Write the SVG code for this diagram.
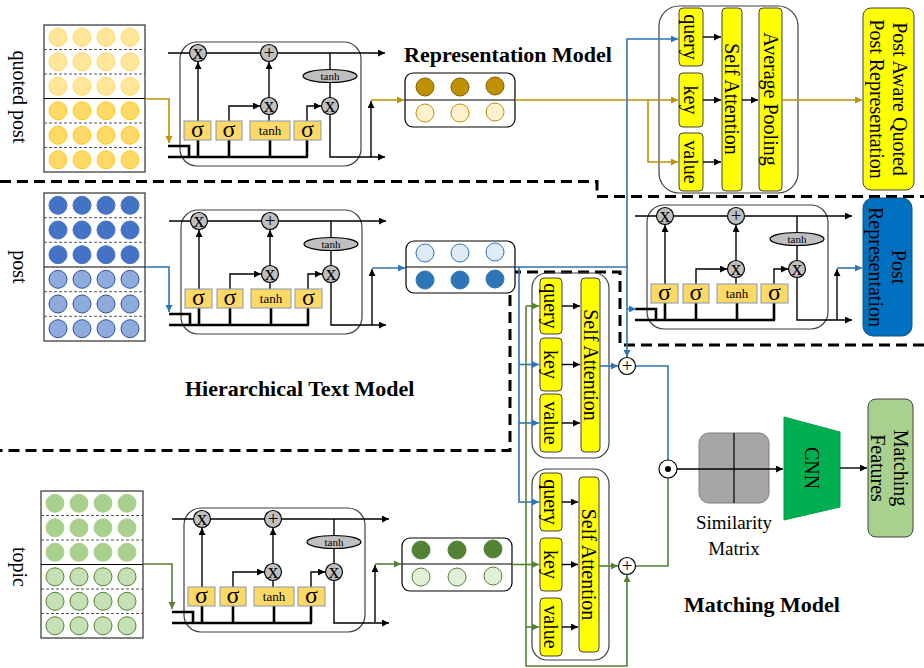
<svg xmlns="http://www.w3.org/2000/svg" width="924" height="668" viewBox="0 0 924 668">
<style>
.t{font-family:"Liberation Serif","Times New Roman",serif;fill:#000}
.b{font-weight:bold;font-size:22px}
.r20{font-size:20px}
.ln{fill:none;stroke:#000;stroke-width:1.4}
.th{fill:none;stroke:#000;stroke-width:2.6}
.gate{fill:#FFD966;stroke:#8497B0;stroke-width:1}
.op{fill:#BFBFBF;stroke:#000;stroke-width:1.2}
.wop{fill:#fff;stroke:#000;stroke-width:1.2}
.y{fill:#FFFF00;stroke:#404040;stroke-width:1}
.box{fill:none;stroke:#404040;stroke-width:1.2}
.rb{fill:#fff;stroke:#000;stroke-width:1.2}
.gold{fill:none;stroke:#BF9000;stroke-width:1.6}
.blue{fill:none;stroke:#2E75B6;stroke-width:1.6}
.green{fill:none;stroke:#548235;stroke-width:1.6}
.dash{fill:none;stroke:#000;stroke-width:3;stroke-dasharray:11 6}
.sep{stroke:#404040;stroke-width:0.9;stroke-dasharray:3 2}
.sol{stroke:#000;stroke-width:1.2}
.mx{fill:#fff;stroke:#404040;stroke-width:1.3}
.q1{fill:#FFE699;stroke:#FFD966;stroke-width:1}
.q2{fill:#FFD966;stroke:#FFC000;stroke-width:0.8}
.p1{fill:#4472C4;stroke:#4472C4;stroke-width:1}
.p2{fill:#8FAADC;stroke:#2F5597;stroke-width:1}
.g1{fill:#A9D18E;stroke:#A9D18E;stroke-width:1}
.g2{fill:#C5E0B4;stroke:#548235;stroke-width:1}
</style>
<defs>
<marker id="ak" markerUnits="userSpaceOnUse" markerWidth="8" markerHeight="8" refX="7" refY="3.5" orient="auto"><path d="M0,0 L7,3.5 L0,7 z" fill="#000"/></marker>
<marker id="ao" markerUnits="userSpaceOnUse" markerWidth="8" markerHeight="8" refX="7" refY="3.5" orient="auto"><path d="M0,0 L7,3.5 L0,7 z" fill="#BF9000"/></marker>
<marker id="ab" markerUnits="userSpaceOnUse" markerWidth="8" markerHeight="8" refX="7" refY="3.5" orient="auto"><path d="M0,0 L7,3.5 L0,7 z" fill="#2E75B6"/></marker>
<marker id="ag" markerUnits="userSpaceOnUse" markerWidth="8" markerHeight="8" refX="7" refY="3.5" orient="auto"><path d="M0,0 L7,3.5 L0,7 z" fill="#548235"/></marker>
<g id="cell">
<rect class="box" x="0" y="0" width="181" height="124" rx="17"/>
<path class="ln" d="M-12,11 H205" marker-end="url(#ak)"/>
<path class="ln" d="M150,11 V28 M150,40 V56"/>
<path class="ln" d="M18,79 V20" marker-end="url(#ak)"/>
<path class="ln" d="M49,79 V64 H80" marker-end="url(#ak)"/>
<path class="ln" d="M89,56 V20" marker-end="url(#ak)"/>
<path class="ln" d="M89,79 V72"/>
<path class="ln" d="M127,79 V64 H141" marker-end="url(#ak)"/>
<path class="ln" d="M150,72 V115 H205" marker-end="url(#ak)"/>
<path class="th" d="M-12,115 H128 M18,98 V115 M49,98 V115 M90,98 V115 M127,98 V115 M-12,104 H9 V115"/>
<rect class="gate" x="4" y="79" width="27" height="19"/>
<rect class="gate" x="36" y="79" width="26" height="19"/>
<rect class="gate" x="70" y="79" width="40" height="19"/>
<rect class="gate" x="114" y="79" width="27" height="19"/>
<text class="t" x="17.5" y="94.5" font-size="24" text-anchor="middle">σ</text>
<text class="t" x="49" y="94.5" font-size="24" text-anchor="middle">σ</text>
<text class="t" x="90" y="93" font-size="13" text-anchor="middle">tanh</text>
<text class="t" x="127.5" y="94.5" font-size="24" text-anchor="middle">σ</text>
<circle class="op" cx="18" cy="11" r="8.5"/>
<circle class="op" cx="89" cy="11" r="8.5"/>
<circle class="op" cx="89" cy="64" r="8.5"/>
<circle class="op" cx="150" cy="64" r="8.5"/>
<ellipse class="op" cx="150" cy="34" rx="27" ry="6.5"/>
<text class="t" x="18" y="16.5" font-size="21" text-anchor="middle">x</text>
<text class="t" x="89" y="17" font-size="19" text-anchor="middle">+</text>
<text class="t" x="89" y="69.5" font-size="21" text-anchor="middle">x</text>
<text class="t" x="150" y="69.5" font-size="21" text-anchor="middle">x</text>
<text class="t" x="150" y="38" font-size="11" text-anchor="middle">tanh</text>
</g>
</defs>
<rect width="924" height="668" fill="#fff"/>

<g id="dashed-regions">
<path class="dash" d="M0,181.5 H597 V196.5 H924"/>
<path class="dash" d="M924,345 H620 V272 H510 V450.5 H0"/>
</g>

<g id="labels">
<text class="t r20" transform="translate(20,97) rotate(90)" text-anchor="middle" dy="0.35em">quoted post</text>
<text class="t r20" transform="translate(20,267) rotate(90)" text-anchor="middle" dy="0.35em">post</text>
<text class="t r20" transform="translate(20,567) rotate(90)" text-anchor="middle" dy="0.35em">topic</text>
<text class="t b" x="404" y="62">Representation Model</text>
<text class="t b" x="185" y="396">Hierarchical Text Model</text>
<text class="t b" x="684" y="612">Matching Model</text>
</g>

<g id="matrix-quoted">
<rect class="mx" x="44" y="25" width="101" height="147"/>
<line class="sep" x1="44" y1="49.5" x2="145" y2="49.5"/>
<line class="sep" x1="44" y1="74" x2="145" y2="74"/>
<line class="sol" x1="44" y1="98.5" x2="145" y2="98.5"/>
<line class="sep" x1="44" y1="123" x2="145" y2="123"/>
<line class="sep" x1="44" y1="147.5" x2="145" y2="147.5"/>
<g class="q1"><circle cx="58" cy="37.3" r="9"/><circle cx="82" cy="37.3" r="9"/><circle cx="106" cy="37.3" r="9"/><circle cx="130" cy="37.3" r="9"/>
<circle cx="58" cy="61.8" r="9"/><circle cx="82" cy="61.8" r="9"/><circle cx="106" cy="61.8" r="9"/><circle cx="130" cy="61.8" r="9"/>
<circle cx="58" cy="86.3" r="9"/><circle cx="82" cy="86.3" r="9"/><circle cx="106" cy="86.3" r="9"/><circle cx="130" cy="86.3" r="9"/></g>
<g class="q2"><circle cx="58" cy="110.8" r="9"/><circle cx="82" cy="110.8" r="9"/><circle cx="106" cy="110.8" r="9"/><circle cx="130" cy="110.8" r="9"/>
<circle cx="58" cy="135.3" r="9"/><circle cx="82" cy="135.3" r="9"/><circle cx="106" cy="135.3" r="9"/><circle cx="130" cy="135.3" r="9"/>
<circle cx="58" cy="159.8" r="9"/><circle cx="82" cy="159.8" r="9"/><circle cx="106" cy="159.8" r="9"/><circle cx="130" cy="159.8" r="9"/></g>
</g>

<g id="matrix-post">
<rect class="mx" x="44" y="193" width="101" height="148"/>
<line class="sep" x1="44" y1="217.7" x2="145" y2="217.7"/>
<line class="sep" x1="44" y1="242.3" x2="145" y2="242.3"/>
<line class="sol" x1="44" y1="267" x2="145" y2="267"/>
<line class="sep" x1="44" y1="291.7" x2="145" y2="291.7"/>
<line class="sep" x1="44" y1="316.3" x2="145" y2="316.3"/>
<g class="p1"><circle cx="58" cy="205.3" r="9"/><circle cx="82" cy="205.3" r="9"/><circle cx="106" cy="205.3" r="9"/><circle cx="130" cy="205.3" r="9"/>
<circle cx="58" cy="230" r="9"/><circle cx="82" cy="230" r="9"/><circle cx="106" cy="230" r="9"/><circle cx="130" cy="230" r="9"/>
<circle cx="58" cy="254.7" r="9"/><circle cx="82" cy="254.7" r="9"/><circle cx="106" cy="254.7" r="9"/><circle cx="130" cy="254.7" r="9"/></g>
<g class="p2"><circle cx="58" cy="279.3" r="9"/><circle cx="82" cy="279.3" r="9"/><circle cx="106" cy="279.3" r="9"/><circle cx="130" cy="279.3" r="9"/>
<circle cx="58" cy="304" r="9"/><circle cx="82" cy="304" r="9"/><circle cx="106" cy="304" r="9"/><circle cx="130" cy="304" r="9"/>
<circle cx="58" cy="328.7" r="9"/><circle cx="82" cy="328.7" r="9"/><circle cx="106" cy="328.7" r="9"/><circle cx="130" cy="328.7" r="9"/></g>
</g>

<g id="matrix-topic">
<rect class="mx" x="41" y="491" width="102" height="147"/>
<line class="sep" x1="41" y1="515.5" x2="143" y2="515.5"/>
<line class="sep" x1="41" y1="540" x2="143" y2="540"/>
<line class="sol" x1="41" y1="564.5" x2="143" y2="564.5"/>
<line class="sep" x1="41" y1="589" x2="143" y2="589"/>
<line class="sep" x1="41" y1="613.5" x2="143" y2="613.5"/>
<g class="g1"><circle cx="55" cy="503.3" r="9"/><circle cx="79" cy="503.3" r="9"/><circle cx="103" cy="503.3" r="9"/><circle cx="127" cy="503.3" r="9"/>
<circle cx="55" cy="527.8" r="9"/><circle cx="79" cy="527.8" r="9"/><circle cx="103" cy="527.8" r="9"/><circle cx="127" cy="527.8" r="9"/>
<circle cx="55" cy="552.3" r="9"/><circle cx="79" cy="552.3" r="9"/><circle cx="103" cy="552.3" r="9"/><circle cx="127" cy="552.3" r="9"/></g>
<g class="g2"><circle cx="55" cy="576.8" r="9"/><circle cx="79" cy="576.8" r="9"/><circle cx="103" cy="576.8" r="9"/><circle cx="127" cy="576.8" r="9"/>
<circle cx="55" cy="601.3" r="9"/><circle cx="79" cy="601.3" r="9"/><circle cx="103" cy="601.3" r="9"/><circle cx="127" cy="601.3" r="9"/>
<circle cx="55" cy="625.8" r="9"/><circle cx="79" cy="625.8" r="9"/><circle cx="103" cy="625.8" r="9"/><circle cx="127" cy="625.8" r="9"/></g>
</g>

<g id="lstm-quoted"><use href="#cell" transform="translate(180,42)"/></g>
<g id="lstm-post"><use href="#cell" transform="translate(181,210)"/></g>
<g id="lstm-topic"><use href="#cell" transform="translate(184,508)"/></g>
<g id="lstm-post-right"><use href="#cell" transform="translate(647,205)"/></g>

<g id="rep-quoted">
<rect class="rb" x="405" y="73" width="110" height="54" rx="8"/>
<line class="sol" x1="405" y1="100" x2="515" y2="100"/>
<g fill="#BF9000" stroke="#7F6000" stroke-width="1"><circle cx="425" cy="87" r="9"/><circle cx="460" cy="87" r="9"/><circle cx="495" cy="86" r="9"/></g>
<g fill="#FFF2CC" stroke="#BF9000" stroke-width="1"><circle cx="425" cy="113" r="9"/><circle cx="460" cy="113" r="9"/><circle cx="495" cy="112" r="9"/></g>
</g>
<g id="rep-post">
<rect class="rb" x="406" y="241" width="109" height="52" rx="8"/>
<line class="sol" x1="406" y1="267" x2="515" y2="267"/>
<g fill="#DEEBF7" stroke="#2E75B6" stroke-width="1"><circle cx="425" cy="253" r="9"/><circle cx="460" cy="253" r="9"/><circle cx="495" cy="252" r="9"/></g>
<g fill="#2E75B6" stroke="#2E75B6" stroke-width="1"><circle cx="425" cy="280" r="9"/><circle cx="460" cy="280" r="9"/><circle cx="495" cy="279" r="9"/></g>
</g>
<g id="rep-topic">
<rect class="rb" x="402" y="538" width="110" height="53" rx="8"/>
<line class="sol" x1="402" y1="564" x2="512" y2="564"/>
<g fill="#548235" stroke="#548235" stroke-width="1"><circle cx="421" cy="550" r="9"/><circle cx="457" cy="550" r="9"/><circle cx="493" cy="549" r="9"/></g>
<g fill="#E2F0D9" stroke="#548235" stroke-width="1"><circle cx="421" cy="577" r="9"/><circle cx="457" cy="577" r="9"/><circle cx="493" cy="576" r="9"/></g>
</g>

<g id="attn-quoted">
<rect class="box" x="659" y="6" width="139" height="187" rx="20"/>
<rect class="y" x="679" y="8" width="24" height="58" rx="4"/>
<rect class="y" x="679" y="73" width="24" height="54" rx="4"/>
<rect class="y" x="679" y="133" width="24" height="58" rx="4"/>
<rect class="y" x="722" y="8" width="20" height="183" rx="4"/>
<rect class="y" x="759" y="8" width="23" height="183" rx="4"/>
<text class="t r20" transform="translate(691,37) rotate(90)" text-anchor="middle" dy="0.35em">query</text>
<text class="t r20" transform="translate(691,100) rotate(90)" text-anchor="middle" dy="0.35em">key</text>
<text class="t r20" transform="translate(691,162) rotate(90)" text-anchor="middle" dy="0.35em">value</text>
<text class="t r20" transform="translate(732,99) rotate(90)" text-anchor="middle" dy="0.35em">Self Attention</text>
<text class="t r20" transform="translate(770.5,99) rotate(90)" text-anchor="middle" dy="0.35em">Average Pooling</text>
</g>

<g id="post-aware-quoted">
<rect x="863" y="8" width="51" height="182" rx="8" fill="#FFFF00" stroke="#404040" stroke-width="1"/>
<text class="t r20" transform="translate(888.5,99) rotate(90)" text-anchor="middle"><tspan x="0" y="-11.5" dy="0.35em">Post Aware Quoted</tspan><tspan x="0" y="11.5" dy="0.35em">Post Representation</tspan></text>
</g>

<g id="post-representation">
<rect x="863" y="198" width="49" height="138" rx="10" fill="#0070C0" stroke="#1F4E79" stroke-width="1"/>
<text class="t r20" transform="translate(887.5,267) rotate(90)" text-anchor="middle"><tspan x="0" y="-11.5" dy="0.35em">Post</tspan><tspan x="0" y="11.5" dy="0.35em">Representation</tspan></text>
</g>

<g id="attn-post">
<rect class="box" x="532" y="273" width="77" height="185" rx="15"/>
<rect class="y" x="540" y="278" width="22" height="56" rx="4"/>
<rect class="y" x="540" y="338" width="22" height="53" rx="4"/>
<rect class="y" x="540" y="394" width="22" height="58" rx="4"/>
<rect class="y" x="581" y="278" width="19" height="174" rx="4"/>
<text class="t r20" transform="translate(551,306) rotate(90)" text-anchor="middle" dy="0.35em">query</text>
<text class="t r20" transform="translate(551,364.5) rotate(90)" text-anchor="middle" dy="0.35em">key</text>
<text class="t r20" transform="translate(551,423) rotate(90)" text-anchor="middle" dy="0.35em">value</text>
<text class="t r20" transform="translate(590.5,365) rotate(90)" text-anchor="middle" dy="0.35em">Self Attention</text>
</g>

<g id="attn-topic">
<rect class="box" x="532" y="469" width="77" height="191" rx="15"/>
<rect class="y" x="540" y="473" width="22" height="58" rx="4"/>
<rect class="y" x="540" y="538" width="22" height="53" rx="4"/>
<rect class="y" x="540" y="598" width="22" height="58" rx="4"/>
<rect class="y" x="579" y="477" width="20" height="175" rx="4"/>
<text class="t r20" transform="translate(551,502) rotate(90)" text-anchor="middle" dy="0.35em">query</text>
<text class="t r20" transform="translate(551,564.5) rotate(90)" text-anchor="middle" dy="0.35em">key</text>
<text class="t r20" transform="translate(551,627) rotate(90)" text-anchor="middle" dy="0.35em">value</text>
<text class="t r20" transform="translate(589,564.5) rotate(90)" text-anchor="middle" dy="0.35em">Self Attention</text>
</g>

<g id="similarity-matrix">
<rect x="699" y="433" width="70" height="70" rx="10" fill="#A6A6A6" stroke="#7F7F7F" stroke-width="1"/>
<line x1="734" y1="433" x2="734" y2="503" stroke="#000" stroke-width="1.2"/>
<text class="t" x="734" y="529" font-size="19" text-anchor="middle">Similarity</text>
<text class="t" x="734" y="555" font-size="19" text-anchor="middle">Matrix</text>
</g>

<g id="cnn">
<polygon points="784,417 840,432 840,507 784,520" fill="#00B050" stroke="#00A047" stroke-width="1"/>
<text class="t r20" transform="translate(812,468) rotate(90)" text-anchor="middle" dy="0.35em">CNN</text>
</g>

<g id="matching-features">
<rect x="868" y="399" width="45" height="138" rx="8" fill="#A9D18E" stroke="#404040" stroke-width="1"/>
<text class="t r20" transform="translate(889,468) rotate(90)" text-anchor="middle"><tspan x="0" y="-11.5" dy="0.35em">Matching</tspan><tspan x="0" y="11.5" dy="0.35em">Features</tspan></text>
</g>

<g id="connectors">
<path class="gold" d="M145,99 H169 V143" marker-end="url(#ao)"/>
<path class="ln" d="M371,157 V101" marker-end="url(#ak)"/>
<path class="gold" d="M371,100 H404" marker-end="url(#ao)"/>
<path class="gold" d="M515,100 H678" marker-end="url(#ao)"/>
<path class="gold" d="M648,100 V162 H678" marker-end="url(#ao)"/>
<path class="ln" d="M703,37 H721" marker-end="url(#ak)"/>
<path class="ln" d="M703,100 H721" marker-end="url(#ak)"/>
<path class="ln" d="M703,162 H721" marker-end="url(#ak)"/>
<path class="ln" d="M742,100 H758" marker-end="url(#ak)"/>
<path class="gold" d="M782,100 H862" marker-end="url(#ao)"/>

<path class="blue" d="M145,267 H169 V312" marker-end="url(#ab)"/>
<path class="ln" d="M372,325 V269" marker-end="url(#ak)"/>
<path class="blue" d="M372,268 H405" marker-end="url(#ab)"/>
<path class="blue" d="M515,267 H627 V357" marker-end="url(#ab)"/>
<path class="blue" d="M627,267 V39 H678" marker-end="url(#ab)"/>
<path class="blue" d="M627,309 H636" marker-end="url(#ab)"/>
<path class="ln" d="M837,320 V269" marker-end="url(#ak)"/>
<path class="blue" d="M837,268 H862" marker-end="url(#ab)"/>
<path class="blue" d="M519,267 V502 H539" marker-end="url(#ab)"/>
<path class="blue" d="M519,364.5 H539" marker-end="url(#ab)"/>
<path class="blue" d="M519,423 H539" marker-end="url(#ab)"/>
<path class="ln" d="M562,306 H580" marker-end="url(#ak)"/>
<path class="ln" d="M562,364.5 H580" marker-end="url(#ak)"/>
<path class="ln" d="M562,423 H580" marker-end="url(#ak)"/>
<path class="blue" d="M600,366 H618" marker-end="url(#ab)"/>
<path class="blue" d="M636,366 H668 V460"/>

<path class="green" d="M143,564 H172 V609" marker-end="url(#ag)"/>
<path class="ln" d="M375,622 V565" marker-end="url(#ak)"/>
<path class="green" d="M375,564 H401" marker-end="url(#ag)"/>
<path class="green" d="M512,564.5 H539" marker-end="url(#ag)"/>
<path class="green" d="M526,306 H539" marker-end="url(#ag)"/>
<path class="green" d="M526,306 V666 H627 V575" marker-end="url(#ag)"/>
<path class="green" d="M526,627 H539" marker-end="url(#ag)"/>
<path class="ln" d="M562,502 H578" marker-end="url(#ak)"/>
<path class="ln" d="M562,564.5 H578" marker-end="url(#ak)"/>
<path class="ln" d="M562,627 H578" marker-end="url(#ak)"/>
<path class="green" d="M599,566 H618" marker-end="url(#ag)"/>
<path class="green" d="M636,566 H668 V478"/>

<path class="ln" d="M677,469 H783" marker-end="url(#ak)"/>
<path class="ln" d="M840,468 H867" marker-end="url(#ak)"/>

<circle class="wop" cx="627" cy="366" r="8.5"/>
<text class="t" x="627" y="372" font-size="19" text-anchor="middle">+</text>
<circle class="wop" cx="627" cy="566" r="8.5"/>
<text class="t" x="627" y="572" font-size="19" text-anchor="middle">+</text>
<circle class="wop" cx="668" cy="469" r="9"/>
<circle cx="668" cy="469" r="3" fill="#000"/>
</g>
</svg>
